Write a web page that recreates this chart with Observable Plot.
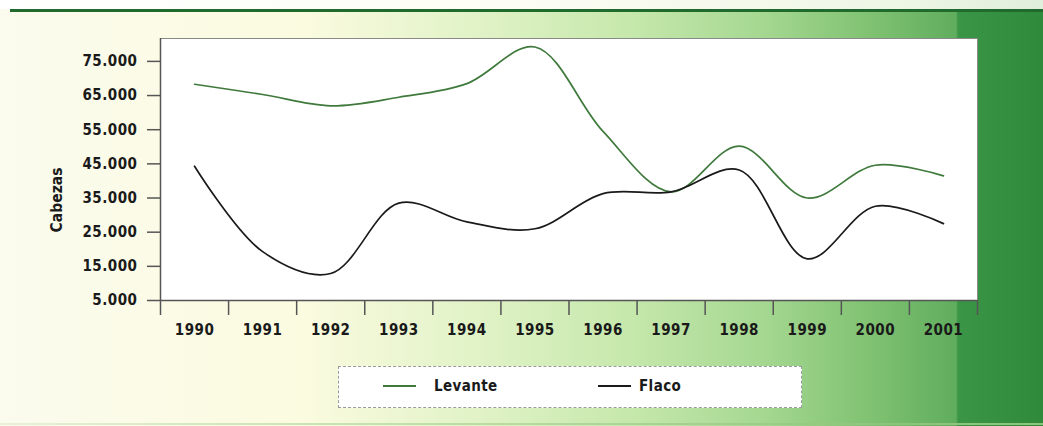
<!DOCTYPE html>
<html>
<head>
<meta charset="utf-8">
<script src="https://cdn.jsdelivr.net/npm/d3@7"></script>
<script src="https://cdn.jsdelivr.net/npm/@observablehq/plot@0.6"></script>
<style>
  html, body { margin: 0; padding: 0; }
  #wrap {
    position: relative; width: 1043px; height: 426px; overflow: hidden;
    background: linear-gradient(90deg, #fbfbee 0px, #fbfbe0 300px, #e2f3c8 470px, #c6e8ac 630px, #a6d892 760px, #80c272 870px, #60ad5e 956px, #3b9546 958px, #2f8a3c 1043px);
    font-family: "DejaVu Sans Condensed", "Liberation Sans", Arial, sans-serif;
  }
  #topwhite { position: absolute; left: 0; top: 0; width: 1043px; height: 9px;
    background: linear-gradient(90deg, #ffffff 0px, #fdfdf5 500px, #eef6e6 900px, #e0eedc 1043px); }
  #topline { position: absolute; left: 10px; top: 9px; right: 0; height: 3px; background: #1f6a2c; }
  #botline { position: absolute; left: 0; top: 423px; right: 0; height: 2px;
    background: linear-gradient(90deg, #e8f0d8, #b8dca0 500px, #8cc47c 900px); }
  #chart { position: absolute; left: 0; top: 0; }
  #ylabel { position: absolute; left: 57px; top: 200px; transform: translate(-50%, -50%) rotate(-90deg);
    font: bold 15.5px "DejaVu Sans Condensed", "Liberation Sans", Arial, sans-serif; color: #1a1a1a; white-space: nowrap; }
  #legend {
    position: absolute; left: 338px; top: 366px; width: 462px; height: 40px;
    background: #ffffff; border: 1px dashed #9a9a9a;
    font: bold 15px "DejaVu Sans Condensed", "Liberation Sans", Arial, sans-serif; letter-spacing: 0.4px; color: #1a1a1a;
  }
  .item { position: absolute; top: 9px; display: flex; align-items: center; height: 20px; }
  .sw { display: inline-block; width: 33px; height: 2px; }
</style>
</head>
<body>
<div id="wrap">
  <div id="topwhite"></div>
  <div id="topline"></div>
  <div id="botline"></div>
  <div id="chart"></div>
  <div id="ylabel"></div>
  <div id="legend"></div>
</div>
<script>
const years = [1990, 1991, 1992, 1993, 1994, 1995, 1996, 1997, 1998, 1999, 2000, 2001];
const levante = [68300, 65300, 62000, 64500, 68500, 79200, 54500, 36800, 50200, 35000, 44600, 41500];
const flaco = [44300, 19300, 12900, 33500, 28000, 26000, 36300, 36800, 43200, 17200, 32600, 27500];
const yTicks = [5000, 15000, 25000, 35000, 45000, 55000, 65000, 75000];
const seriesNames = ["Levante", "Flaco"];
const seriesColors = ["#3f7a3c", "#1a1a1a"];
const yLabel = "Cabezas";

const rows = [];
years.forEach((yr, i) => {
  rows.push({year: yr, value: levante[i], serie: seriesNames[0]});
  rows.push({year: yr, value: flaco[i], serie: seriesNames[1]});
});
const bounds = [years[0] - 0.5, ...years.map(y => y + 0.5)];
const fmt = d3.formatLocale({decimal: ",", thousands: ".", grouping: [3], currency: ["", ""]}).format(",");

const chart = Plot.plot({
  width: 1043,
  height: 330,
  marginLeft: 160,
  marginRight: 66,
  marginTop: 38,
  marginBottom: 30,
  style: {fontFamily: "'DejaVu Sans Condensed', 'Liberation Sans', Arial, sans-serif", fontSize: "15px", fontWeight: "bold", letterSpacing: "0.5px", color: "#1a1a1a", background: "transparent", overflow: "visible"},
  x: {domain: [bounds[0], bounds[bounds.length - 1]], label: null},
  y: {domain: [5000, 81700], label: null},
  color: {domain: seriesNames, range: seriesColors},
  marks: [
    Plot.frame({fill: "#ffffff", stroke: "#8a8a8a", strokeWidth: 1}),
    Plot.ruleY([5000], {stroke: "#555", strokeWidth: 1.6}),
    Plot.axisX({ticks: bounds, tickSize: 15, tickFormat: () => "", label: null, stroke: "#555", strokeWidth: 1.5}),
    Plot.axisX({ticks: years, tickSize: 0, tickPadding: 24, label: null, tickFormat: d => String(d)}),
    Plot.axisY({ticks: yTicks, tickSize: 13, tickPadding: 10, tickFormat: fmt, label: null, stroke: "#555", strokeWidth: 1.5}),
    Plot.ruleX([bounds[0]], {stroke: "#555", strokeWidth: 1.5}),
    Plot.line(rows, {x: "year", y: "value", z: "serie", stroke: "serie", strokeWidth: 1.7, curve: "catmull-rom"})
  ]
});
document.getElementById("chart").appendChild(chart);
document.getElementById("ylabel").textContent = yLabel;

const legend = document.getElementById("legend");
const legendLeft = [44, 259];
const legendGap = [18, 8];
seriesNames.forEach((name, i) => {
  const it = document.createElement("div");
  it.className = "item";
  it.style.left = legendLeft[i] + "px";
  const sw = document.createElement("span");
  sw.className = "sw";
  sw.style.background = seriesColors[i];
  sw.style.marginRight = legendGap[i] + "px";
  it.appendChild(sw);
  it.appendChild(document.createTextNode(name));
  legend.appendChild(it);
});
</script>
</body>
</html>
